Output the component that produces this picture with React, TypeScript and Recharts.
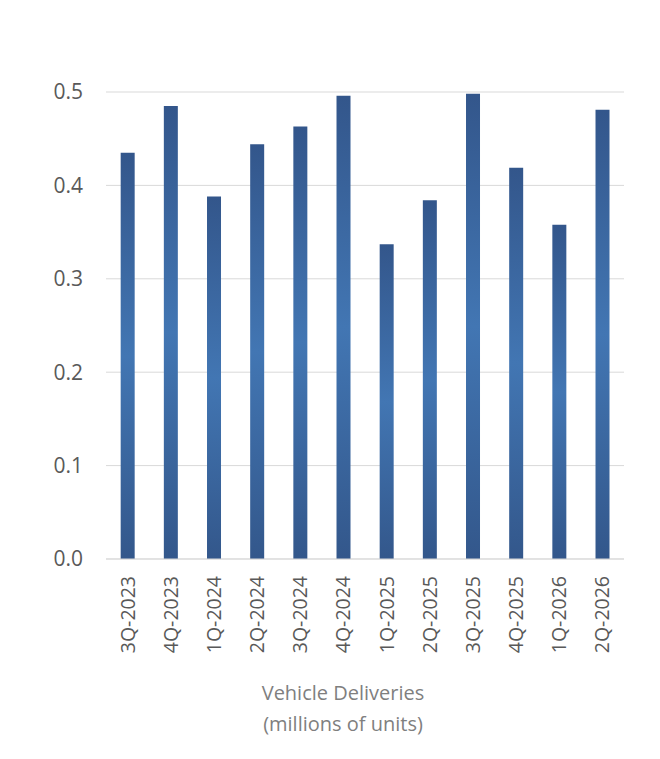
import { Bar, BarChart, CartesianGrid, XAxis, YAxis } from 'recharts';

const quarters = [
  '3Q-2023',
  '4Q-2023',
  '1Q-2024',
  '2Q-2024',
  '3Q-2024',
  '4Q-2024',
  '1Q-2025',
  '2Q-2025',
  '3Q-2025',
  '4Q-2025',
  '1Q-2026',
  '2Q-2026',
];

const deliveries = [
  0.435, 0.485, 0.388, 0.444, 0.463, 0.496, 0.337, 0.384, 0.498, 0.419, 0.358,
  0.481,
];

const yTicks = [0, 0.1, 0.2, 0.3, 0.4, 0.5];

const titleLines = ['Vehicle Deliveries', '(millions of units)'];

const data = quarters.map((q, i) => ({ quarter: q, value: deliveries[i] }));

const FONT = '"Open Sans", sans-serif';

const QuarterTick = (props: any) => {
  const { x, y, payload } = props;
  return (
    <g transform={`translate(${x},${y})`}>
      <text
        transform="rotate(-90)"
        x={-15}
        y={0}
        dy="0.36em"
        textAnchor="end"
        fill="#595959"
        fontSize={19.5}
        fontFamily={FONT}
      >
        {payload.value}
      </text>
    </g>
  );
};

const AxisTitle = (props: any) => {
  const vb = props.viewBox || {};
  const cx = vb.x + vb.width / 2 - 22;
  const top = vb.y;
  return (
    <text
      textAnchor="middle"
      fill="#7f7f7f"
      fontSize={20}
      fontFamily={FONT}
    >
      {titleLines.map((line, i) => (
        <tspan key={line} x={cx} y={top + 141 + i * 31}>
          {line}
        </tspan>
      ))}
    </text>
  );
};

export default function App() {
  return (
    <div style={{ position: 'absolute', left: 0, top: 0, background: '#fff' }}>
      <BarChart
        width={660}
        height={759}
        data={data}
        margin={{ top: 92, right: 36, bottom: 0, left: 0 }}
        barCategoryGap="34%"
      >
        <defs>
          <linearGradient id="barShade" x1="0" y1="0" x2="0" y2="1">
            <stop offset="0%" stopColor="#33568b" />
            <stop offset="50%" stopColor="#4276b3" />
            <stop offset="100%" stopColor="#33578b" />
          </linearGradient>
        </defs>
        <CartesianGrid vertical={false} stroke="#d9d9d9" strokeWidth={1} />
        <XAxis
          dataKey="quarter"
          interval={0}
          height={200}
          tickLine={false}
          axisLine={{ stroke: '#d9d9d9' }}
          tickSize={0}
          tick={<QuarterTick />}
          label={<AxisTitle />}
        />
        <YAxis
          width={106}
          domain={[0, 0.5]}
          ticks={yTicks}
          tickFormatter={(v: number) => v.toFixed(1)}
          axisLine={false}
          tickLine={false}
          tickSize={0}
          tickMargin={23}
          tick={{ fill: '#595959', fontSize: 21, fontFamily: FONT }}
        />
        <Bar dataKey="value" fill="url(#barShade)" isAnimationActive={false} />
      </BarChart>
    </div>
  );
}
